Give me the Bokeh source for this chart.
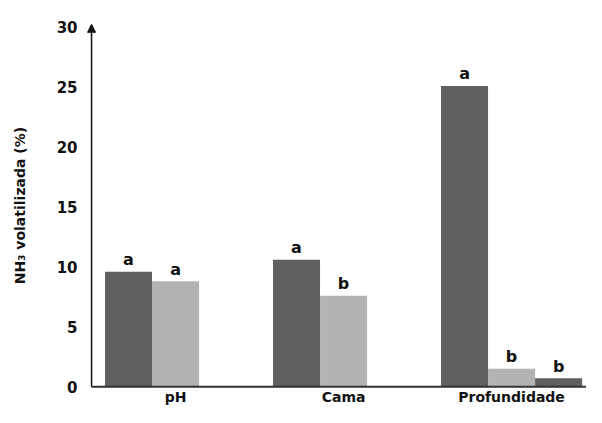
from bokeh.plotting import figure
from bokeh.models import ColumnDataSource, FixedTicker, Range1d, Arrow, NormalHead
from bokeh.core.properties import value
from bokeh.embed import file_html
from bokeh.resources import INLINE

# ---- data ----
categories = ["pH", "Cama", "Profundidade"]
series1 = [9.6, 10.6, 25.1]        # dark bars
series2 = [8.8, 7.6, 1.5]          # light bars
series3 = [None, None, 0.7]        # third (dark) bar, only Profundidade
letters1 = ["a", "a", "a"]
letters2 = ["a", "b", "b"]
letters3 = [None, None, "b"]
y_ticks = [0, 5, 10, 15, 20, 25, 30]

series = [series1, series2, series3]
letters = [letters1, letters2, letters3]
colors = ["#5f5f5f", "#b3b3b3", "#5f5f5f"]
bar_w = 0.28
offsets = [-bar_w, 0.0, bar_w]

FONT = "DejaVu Sans"
X0, X1 = -0.53, 2.446
Y0, Y1 = -0.15, 30.4
AX_X = -0.5

p = figure(width=586, height=407, output_backend="svg", toolbar_location=None,
           x_range=Range1d(X0, X1), y_range=Range1d(Y0, Y1),
           min_border_left=86, min_border_top=22, min_border_right=0,
           min_border_bottom=17)
p.outline_line_color = None
p.xgrid.visible = False
p.ygrid.visible = False
p.background_fill_color = "white"
p.border_fill_color = "white"

xs_cat = list(range(len(categories)))
for s, lab, col, off in zip(series, letters, colors, offsets):
    xs = [x + off for x, v in zip(xs_cat, s) if v is not None]
    ys = [v for v in s if v is not None]
    ls = [l for l, v in zip(lab, s) if v is not None]
    src = ColumnDataSource(dict(x=xs, top=ys, lab=ls))
    p.vbar(x="x", top="top", bottom=0, width=bar_w, source=src, fill_color=col,
           line_color=None)
    p.text(x="x", y="top", text="lab", source=src, text_align="center",
           text_baseline="alphabetic", y_offset=-12,
           text_font=value(FONT), text_font_style="bold",
           text_font_size="16px", text_color="#111111")

# y axis
yax = p.yaxis[0]
yax.ticker = FixedTicker(ticks=y_ticks)
yax.major_tick_line_color = None
yax.minor_tick_line_color = None
yax.major_tick_out = 0
yax.major_tick_in = 0
yax.axis_line_color = None
yax.major_label_text_font = FONT
yax.major_label_text_font_style = "bold"
yax.major_label_text_font_size = "15px"
yax.major_label_text_color = "#111111"
yax.major_label_standoff = 9
yax.axis_label = "NH₃ volatilizada (%)"
yax.axis_label_text_font = FONT
yax.axis_label_text_font_style = "bold"
yax.axis_label_text_font_size = "14px"
yax.axis_label_text_color = "#111111"
yax.axis_label_standoff = 26

# x axis
xax = p.xaxis[0]
xax.ticker = FixedTicker(ticks=xs_cat)
xax.major_label_overrides = {i: c for i, c in zip(xs_cat, categories)}
xax.major_tick_line_color = None
xax.minor_tick_line_color = None
xax.major_tick_out = 0
xax.major_tick_in = 0
xax.axis_line_color = None
xax.major_label_text_font = FONT
xax.major_label_text_font_style = "bold"
xax.major_label_text_font_size = "14px"
xax.major_label_text_color = "#111111"
xax.major_label_standoff = 0

# axis lines (y with arrow head, x plain)
p.add_layout(Arrow(end=NormalHead(size=8, fill_color="#111111", line_color="#111111"),
                   x_start=AX_X, y_start=0, x_end=AX_X, y_end=30.25,
                   line_color="#111111", line_width=1.5))
p.add_layout(Arrow(end=None, start=None, x_start=AX_X, y_start=0, x_end=X1, y_end=0,
                   line_color="#333333", line_width=2))

open("out.html", "w").write(file_html(p, INLINE))
